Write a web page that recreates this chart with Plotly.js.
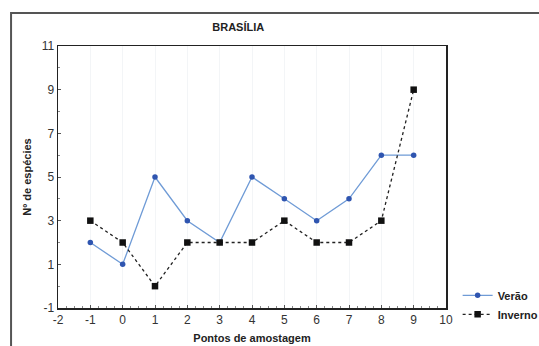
<!DOCTYPE html>
<html>
<head>
<meta charset="utf-8">
<script src="https://cdn.plot.ly/plotly-3.0.1.min.js"></script>
<style>
  html, body { margin: 0; padding: 0; background: #fff; }
  #chart { width: 539px; height: 346px; }
</style>
</head>
<body>
<div id="chart"></div>
<script>
// Sampling points and species counts per season
const pontos = [-1, 0, 1, 2, 3, 4, 5, 6, 7, 8, 9];
const verao = [2, 1, 5, 3, 2, 5, 4, 3, 4, 6, 6];
const inverno = [3, 2, 0, 2, 2, 2, 3, 2, 2, 3, 9];
const yTicks = [-1, 1, 3, 5, 7, 9, 11];
const xTicks = [-2, -1, 0, 1, 2, 3, 4, 5, 6, 7, 8, 9, 10];

const font = 'Liberation Sans, Arial, sans-serif';

const traces = [
  {
    x: pontos, y: verao, name: '<b>Verão</b>', type: 'scatter', mode: 'lines+markers',
    line: { color: '#6f9bd6', width: 1.3 },
    marker: { color: '#2f55b0', size: 5.5, symbol: 'circle' }
  },
  {
    x: pontos, y: inverno, name: '<b>Inverno</b>', type: 'scatter', mode: 'lines+markers',
    line: { color: '#222', width: 1.3, dash: 'dot' },
    marker: { color: '#111', size: 6.5, symbol: 'square' }
  }
];

const layout = {
  width: 539, height: 346,
  margin: { l: 58, r: 93, t: 46, b: 38, autoexpand: false },
  paper_bgcolor: '#fff', plot_bgcolor: '#fff',
  font: { family: font, size: 12, color: '#222' },
  title: {
    text: '<b>BRASÍLIA</b>', font: { family: font, size: 11, color: '#222' },
    x: 0.442, xanchor: 'center', y: 0.922, yanchor: 'middle'
  },
  xaxis: {
    range: [-2, 10], tickvals: xTicks, ticktext: xTicks.map(String),
    showline: true, linecolor: '#222', linewidth: 1.5, mirror: true,
    ticks: 'inside', ticklen: 3, tickcolor: '#555',
    minor: { dtick: 0.25, ticks: 'inside', ticklen: 2, tickcolor: '#888', showgrid: false },
    showgrid: true, gridcolor: '#f3f5f7', gridwidth: 1, zeroline: false,
    tickfont: { family: font, size: 12, color: '#333' },
    title: { text: '<b>Pontos de amostagem</b>', font: { family: font, size: 11, color: '#222' }, standoff: 8 }
  },
  yaxis: {
    range: [-1, 11], tickvals: yTicks, ticktext: yTicks.map(String),
    showline: true, linecolor: '#222', linewidth: 1.5, mirror: true,
    ticks: 'inside', ticklen: 3, tickcolor: '#555',
    minor: { dtick: 1, ticks: 'inside', ticklen: 2, tickcolor: '#888', showgrid: false },
    showgrid: false, zeroline: false,
    tickfont: { family: font, size: 12, color: '#333' },
    title: { text: '<b>Nº de espécies</b>', font: { family: font, size: 11, color: '#222' }, standoff: 8 }
  },
  legend: {
    x: 1.03, xanchor: 'left', y: 0.012, yanchor: 'middle',
    font: { family: font, size: 11, color: '#222' },
    itemwidth: 30, tracegroupgap: 0, bgcolor: 'rgba(0,0,0,0)'
  },
  shapes: [
    {
      type: 'rect', xref: 'paper', yref: 'paper',
      x0: -0.121, x1: 1.3, y0: -0.2, y1: 1.126,
      line: { color: '#555', width: 2 }, fillcolor: 'rgba(0,0,0,0)', layer: 'below'
    }
  ]
};

Plotly.newPlot('chart', traces, layout, { displayModeBar: false, staticPlot: true });
</script>
</body>
</html>
